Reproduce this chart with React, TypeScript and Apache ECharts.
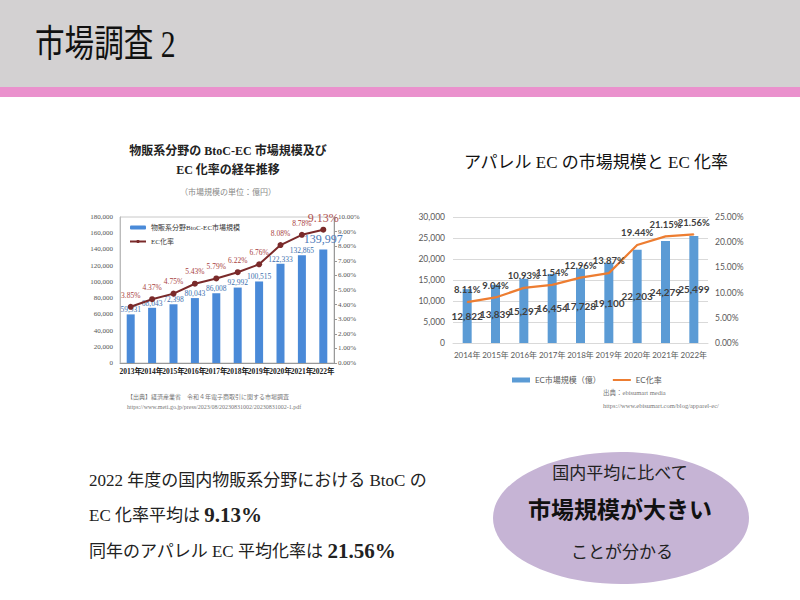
import React, { useEffect, useRef } from "react";
import * as echarts from "echarts";

const SERIF = '"Liberation Serif", "DejaVu Serif", "Noto Sans CJK JP", serif';
const SANS = 'Lato, "Liberation Sans", "Noto Sans CJK JP", sans-serif';

// Left chart: 物販系分野 BtoC-EC
const leftYears = ["2013年", "2014年", "2015年", "2016年", "2017年", "2018年", "2019年", "2020年", "2021年", "2022年"];
const leftMarket = [59931, 68043, 72398, 80043, 86008, 92992, 100515, 122333, 132865, 139997];
const leftRate = [3.85, 4.37, 4.75, 5.43, 5.79, 6.22, 6.76, 8.08, 8.78, 9.13];

// Right chart: アパレル EC
const rightYears = ["2014年", "2015年", "2016年", "2017年", "2018年", "2019年", "2020年", "2021年", "2022年"];
const rightMarket = [12822, 13839, 15297, 16454, 17728, 19100, 22203, 24279, 25499];
const rightRate = [8.11, 9.04, 10.93, 11.54, 12.96, 13.87, 19.44, 21.15, 21.56];

const fmtNum = (v: number) => v.toLocaleString("en-US");
const fmtPct = (v: number) => v.toFixed(2) + "%";

function txt(x: number, y: number, text: string, extra: any = {}, elExtra: any = {}) {
  const align = extra.align || "left";
  return {
    type: "text",
    x,
    y,
    ...elExtra,
    style: {
      text,
      fill: "#222",
      fontFamily: SERIF,
      fontSize: 12,
      align,
      textAlign: align,
      verticalAlign: "middle",
      textVerticalAlign: "middle",
      ...extra,
    },
  };
}

export default function App() {
  const ref = useRef<HTMLDivElement>(null);
  useEffect(() => {
    if (!ref.current) return;
    const chart = echarts.init(ref.current, null, { renderer: "svg" });
    const lastIdxL = leftMarket.length - 1;
    const option: any = {
      animation: false,
      backgroundColor: "#ffffff",
      grid: [
        { left: 120, top: 217, width: 214, height: 146, show: true, borderColor: "#c8c8c8", borderWidth: 1 },
        { left: 453, top: 217, width: 255, height: 126, show: false },
      ],
      legend: [
        {
          data: ["物販系分野BtoC-EC市場規模", "EC化率"],
          orient: "vertical",
          left: 124,
          top: 219,
          itemGap: 7,
          itemWidth: 16,
          itemHeight: 4,
          textStyle: { fontSize: 7, color: "#333", fontFamily: SERIF },
        },
        {
          data: [
            { name: "EC市場規模（億）", icon: "rect" },
            { name: "EC化率_r", itemStyle: { opacity: 0 } },
          ],
          formatter: (n: string) => (n === "EC化率_r" ? "EC化率" : n),
          left: 507,
          top: 371,
          itemGap: 11,
          itemWidth: 18,
          itemHeight: 5,
          textStyle: { fontSize: 8, color: "#595959", fontFamily: SANS },
        },
      ],
      xAxis: [
        {
          type: "category",
          gridIndex: 0,
          data: leftYears,
          axisTick: { show: false },
          axisLine: { lineStyle: { color: "#999" } },
          axisLabel: { interval: 0, fontSize: 7.5, fontWeight: "bold", color: "#222", margin: 5, fontFamily: SERIF },
        },
        {
          type: "category",
          gridIndex: 1,
          data: rightYears,
          axisTick: { show: false },
          axisLine: { lineStyle: { color: "#d9d9d9" } },
          axisLabel: { interval: 0, fontSize: 8, color: "#595959", margin: 8, fontFamily: SANS },
        },
      ],
      yAxis: [
        {
          type: "value",
          gridIndex: 0,
          min: 0,
          max: 180000,
          interval: 20000,
          splitLine: { show: false },
          axisLine: { show: true, lineStyle: { color: "#bbb" } },
          axisTick: { show: false },
          axisLabel: { fontSize: 7, color: "#555", margin: 7, fontFamily: SERIF, formatter: (v: number) => fmtNum(v) },
        },
        {
          type: "value",
          gridIndex: 0,
          position: "right",
          min: 0,
          max: 10,
          interval: 1,
          splitLine: { show: false },
          axisLine: { show: true, lineStyle: { color: "#999" } },
          axisTick: { show: true, length: 3, lineStyle: { color: "#999" } },
          axisLabel: { fontSize: 7, color: "#555", margin: 4, fontFamily: SERIF, formatter: (v: number) => fmtPct(v) },
        },
        {
          type: "value",
          gridIndex: 1,
          min: 0,
          max: 30000,
          interval: 5000,
          splitLine: { lineStyle: { color: "#d9d9d9" } },
          axisLine: { show: false },
          axisTick: { show: false },
          axisLabel: { fontSize: 8.5, color: "#595959", margin: 8, fontFamily: SANS, formatter: (v: number) => fmtNum(v) },
        },
        {
          type: "value",
          gridIndex: 1,
          position: "right",
          min: 0,
          max: 25,
          interval: 5,
          splitLine: { show: false },
          axisLine: { show: false },
          axisTick: { show: false },
          axisLabel: { fontSize: 8.5, color: "#595959", margin: 7, fontFamily: SANS, formatter: (v: number) => fmtPct(v) },
        },
      ],
      series: [
        {
          type: "bar",
          name: "物販系分野BtoC-EC市場規模",
          xAxisIndex: 0,
          yAxisIndex: 0,
          barWidth: 8,
          itemStyle: { color: "#4a8ad8" },
          label: {
            show: true,
            position: "top",
            distance: 1,
            color: "#3d6fae",
            fontSize: 7.5,
            fontFamily: SERIF,
            formatter: (p: any) => fmtNum(p.value),
          },
          data: leftMarket.map((v, i) =>
            i === lastIdxL ? { value: v, label: { fontSize: 12, distance: 4, color: "#4a78b8" } } : v
          ),
          z: 2,
        },
        {
          type: "line",
          name: "EC化率",
          xAxisIndex: 0,
          yAxisIndex: 1,
          symbol: "circle",
          symbolSize: 6,
          itemStyle: { color: "#7a2a2a" },
          lineStyle: { color: "#7a2a2a", width: 2 },
          label: {
            show: true,
            position: "top",
            distance: 5,
            color: "#a8423e",
            fontSize: 7.5,
            fontFamily: SERIF,
            formatter: (p: any) => fmtPct(p.value),
          },
          data: leftRate.map((v, i) =>
            i === lastIdxL ? { value: v, label: { fontSize: 12, distance: 3, color: "#b0504c" } } : v
          ),
          z: 3,
        },
        {
          type: "bar",
          name: "EC市場規模（億）",
          xAxisIndex: 1,
          yAxisIndex: 2,
          barWidth: 9,
          itemStyle: { color: "#5b9bd5" },
          label: {
            show: true,
            position: "inside",
            color: "#404040",
            fontSize: 10,
            fontWeight: "bold",
            fontFamily: SANS,
            formatter: (p: any) => fmtNum(p.value),
          },
          data: rightMarket,
          z: 2,
        },
        {
          type: "line",
          name: "EC化率_r",
          xAxisIndex: 1,
          yAxisIndex: 3,
          symbol: "circle",
          symbolSize: 1,
          itemStyle: { color: "#ed7d31" },
          lineStyle: { color: "#ed7d31", width: 2.2 },
          label: {
            show: true,
            position: "top",
            distance: 7,
            color: "#404040",
            fontSize: 9.5,
            fontWeight: "bold",
            fontFamily: SANS,
            formatter: (p: any) => fmtPct(p.value),
          },
          data: rightRate,
          z: 3,
        },
      ],
      graphic: [
        { type: "rect", shape: { x: 0, y: 0, width: 800, height: 87 }, style: { fill: "#d3d1d2" }, z: -10 },
        { type: "rect", shape: { x: 0, y: 87, width: 800, height: 10 }, style: { fill: "#ea91cd" }, z: -10 },
        txt(35, 44, "市場調査 2", { fontSize: 37, fill: "#111" }, { scaleX: 0.8, originX: 0, originY: 0 }),

        txt(228, 151, "物販系分野の BtoC-EC 市場規模及び", { fontSize: 12, fontWeight: "bold", align: "center", fill: "#222" }),
        txt(228, 170, "EC 化率の経年推移", { fontSize: 12, fontWeight: "bold", align: "center", fill: "#222" }),
        txt(228, 192, "（市場規模の単位：億円）", { fontSize: 8, align: "center", fill: "#888" }),
        txt(127, 397, "【出典】経済産業省　令和４年電子商取引に関する市場調査", { fontSize: 6, fill: "#777" }),
        txt(127, 407, "https://www.meti.go.jp/press/2023/08/20230831002/20230831002-1.pdf", { fontSize: 6, fill: "#777" }),

        txt(596, 162, "アパレル EC の市場規模と EC 化率", { fontSize: 17, align: "center", fill: "#111" }),
        txt(603, 392, "出典：ebisumart media", { fontSize: 6.5, fill: "#777" }),
        txt(603, 405, "https://www.ebisumart.com/blog/apparel-ec/", { fontSize: 6.5, fill: "#777" }),

        txt(89, 480, "2022 年度の国内物販系分野における BtoC の", { fontSize: 17, fill: "#222" }),
        txt(89, 515, "EC 化率平均は {b|9.13%}", {
          fontSize: 17,
          fill: "#222",
          rich: { b: { fontSize: 21, fontWeight: "bold", fill: "#222", fontFamily: SERIF } },
        }),
        txt(89, 551, "同年のアパレル EC 平均化率は {b|21.56%}", {
          fontSize: 17,
          fill: "#222",
          rich: { b: { fontSize: 21, fontWeight: "bold", fill: "#222", fontFamily: SERIF } },
        }),

        { type: "ellipse", shape: { cx: 621, cy: 518, rx: 128, ry: 66 }, style: { fill: "#c6b4d5" }, z: -5 },
        txt(620, 473, "国内平均に比べて", { fontSize: 17, align: "center", fill: "#222" }),
        txt(620, 510, "市場規模が大きい", { fontSize: 23, fontWeight: "bold", align: "center", fill: "#111" }),
        txt(622, 552, "ことが分かる", { fontSize: 17, align: "center", fill: "#222" }),
      ],
    };
    chart.setOption(option);
    return () => chart.dispose();
  }, []);
  return <div ref={ref} style={{ position: "fixed", left: 0, top: 0, width: 800, height: 600 }} />;
}
